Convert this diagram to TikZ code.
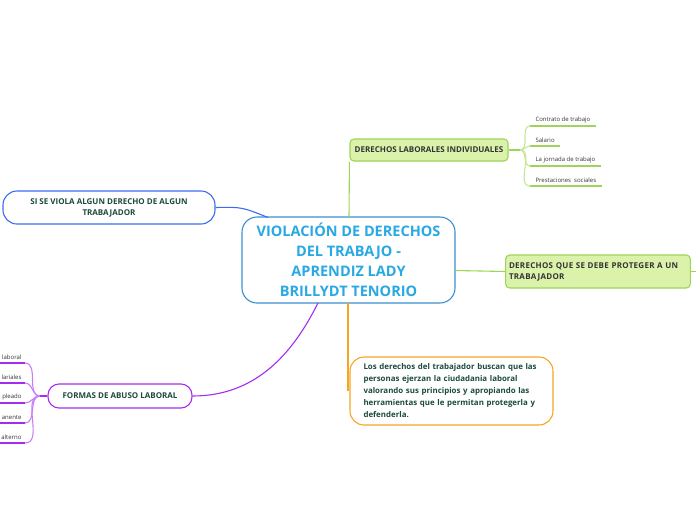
\documentclass[tikz,border=0pt]{standalone}
\usepackage{fontspec}
\setmainfont{Open Sans}
\usetikzlibrary{positioning}
\definecolor{mainblue}{HTML}{3A8FD0}
\definecolor{maintext}{HTML}{29A9E4}
\definecolor{darkgreen}{HTML}{1B4B3C}
\definecolor{textgray}{HTML}{333333}
\definecolor{violablue}{HTML}{3D6CF2}
\definecolor{greenfill}{HTML}{DBF2AA}
\definecolor{greenline}{HTML}{9FD35A}
\definecolor{lightgreen}{HTML}{C6E695}
\definecolor{orangeline}{HTML}{F5A623}
\definecolor{abusepurple}{HTML}{A42CF2}
\definecolor{lightpurple}{HTML}{C77DF6}
\begin{document}
\begin{tikzpicture}[x=1pt,y=-1pt,line width=1.1pt,
 central/.style={draw=mainblue,fill=white,rounded corners=15pt,minimum width=213pt,minimum height=86pt,
  align=center,text=maintext,font=\bfseries\fontsize{14.5}{20}\selectfont},
 pillbox/.style={rounded corners=14pt,fill=white,text=darkgreen,font=\bfseries\fontsize{8}{11}\selectfont},
 greenbox/.style={draw=greenline,fill=greenfill,rounded corners=4pt,text=textgray,
  font=\bfseries\fontsize{8}{11}\selectfont},
 leafr/.style={anchor=south west,inner xsep=5pt,inner ysep=2.5pt,text=textgray,font=\fontsize{6}{7}\selectfont},
 leafl/.style={anchor=south east,inner xsep=3pt,inner ysep=2.5pt,text width=26pt,align=right,
  text=textgray,font=\fontsize{6}{7}\selectfont}]
 \useasboundingbox (0,0) rectangle (696,520);
 \node[central] (main) at (348.5,260) {VIOLACIÓN DE DERECHOS\\DEL TRABAJO -\\APRENDIZ LADY\\BRILLYDT TENORIO};
 \node[pillbox,draw=violablue,minimum width=212pt,minimum height=33pt,align=center] (viola) at (109,207.5)
  {SI SE VIOLA ALGUN DERECHO DE ALGUN\\TRABAJADOR};
 \node[greenbox,minimum width=158pt,minimum height=22pt] (indiv) at (429,150) {DERECHOS LABORALES INDIVIDUALES};
 \node[greenbox,minimum width=184pt,minimum height=33pt,text width=178pt,align=left,
  font=\bfseries\fontsize{8}{11}\selectfont\addfontfeature{LetterSpace=3.5}] (proteger) at (598,271.5)
  {DERECHOS QUE SE DEBE PROTEGER A UN\\TRABAJADOR};
 \node[pillbox,draw=orangeline,minimum width=203pt,minimum height=68pt,text width=176pt,align=left,
  font=\bfseries\fontsize{7.9}{12}\selectfont] (texto) at (451.5,391)
  {Los derechos del trabajador buscan que las\\personas ejerzan la ciudadania laboral\\valorando sus principios y apropiando las\\herramientas que le permitan protegerla y\\defenderla.};
 \node[pillbox,draw=abusepurple,rounded corners=11pt,minimum width=144pt,minimum height=24pt] (abuso) at (120,396)
  {FORMAS DE ABUSO LABORAL};
 \coordinate (rhub) at (520,150);
 \coordinate (lhub) at (40,396);
 \node[leafr] (contrato) at (530,126) {Contrato de trabajo};
 \node[leafr] (salario) at (530,146) {Salario};
 \node[leafr] (jornada) at (530,166) {La jornada de trabajo};
 \node[leafr] (prestaciones) at (530,186) {Prestaciones\ \ sociales};
 \node[leafl] (acoso) at (25,363) {laboral};
 \node[leafl] (salariales) at (25,383) {lariales};
 \node[leafl] (empleado) at (25,403) {pleado};
 \node[leafl] (permanente) at (25,423) {anente};
 \node[leafl] (alterno) at (25,443) {alterno};
 \coordinate (pend) at (696,271.5);
 \draw[violablue] (viola.east) .. controls (242,207) .. (268,217.5);
 \draw[greenline] (349,217) -- (indiv.south west);
 \draw[greenline] (main.east |- 0,270.5) -- (proteger.west);
 \draw[greenline] (proteger.east) -- (pend);
 \draw[orangeline] (348,303) -- (348,391);
 \draw[abusepurple] (318,303) .. controls (292,355) and (255,396) .. (abuso.east);
 \draw[greenline] (indiv.east) -- (rhub);
 \draw[lightgreen] (rhub) to[out=0,in=180] (contrato.south west);
 \draw[lightgreen] (rhub) to[out=0,in=180] (salario.south west);
 \draw[lightgreen] (rhub) to[out=0,in=180] (jornada.south west);
 \draw[lightgreen] (rhub) to[out=0,in=180] (prestaciones.south west);
 \draw[greenline] (contrato.south west) -- (contrato.south east);
 \draw[greenline] (salario.south west) -- (salario.south east);
 \draw[greenline] (jornada.south west) -- (jornada.south east);
 \draw[greenline] (prestaciones.south west) -- (prestaciones.south east);
 \draw[abusepurple] (abuso.west) -- (lhub);
 \draw[lightpurple] (lhub) to[out=180,in=0] (acoso.south east);
 \draw[lightpurple] (lhub) to[out=180,in=0] (salariales.south east);
 \draw[lightpurple] (lhub) to[out=180,in=0] (empleado.south east);
 \draw[lightpurple] (lhub) to[out=180,in=0] (permanente.south east);
 \draw[lightpurple] (lhub) to[out=180,in=0] (alterno.south east);
 \draw[abusepurple] (acoso.south west) -- (acoso.south east);
 \draw[abusepurple] (salariales.south west) -- (salariales.south east);
 \draw[abusepurple] (empleado.south west) -- (empleado.south east);
 \draw[abusepurple] (permanente.south west) -- (permanente.south east);
 \draw[abusepurple] (alterno.south west) -- (alterno.south east);
\end{tikzpicture}
\end{document}
